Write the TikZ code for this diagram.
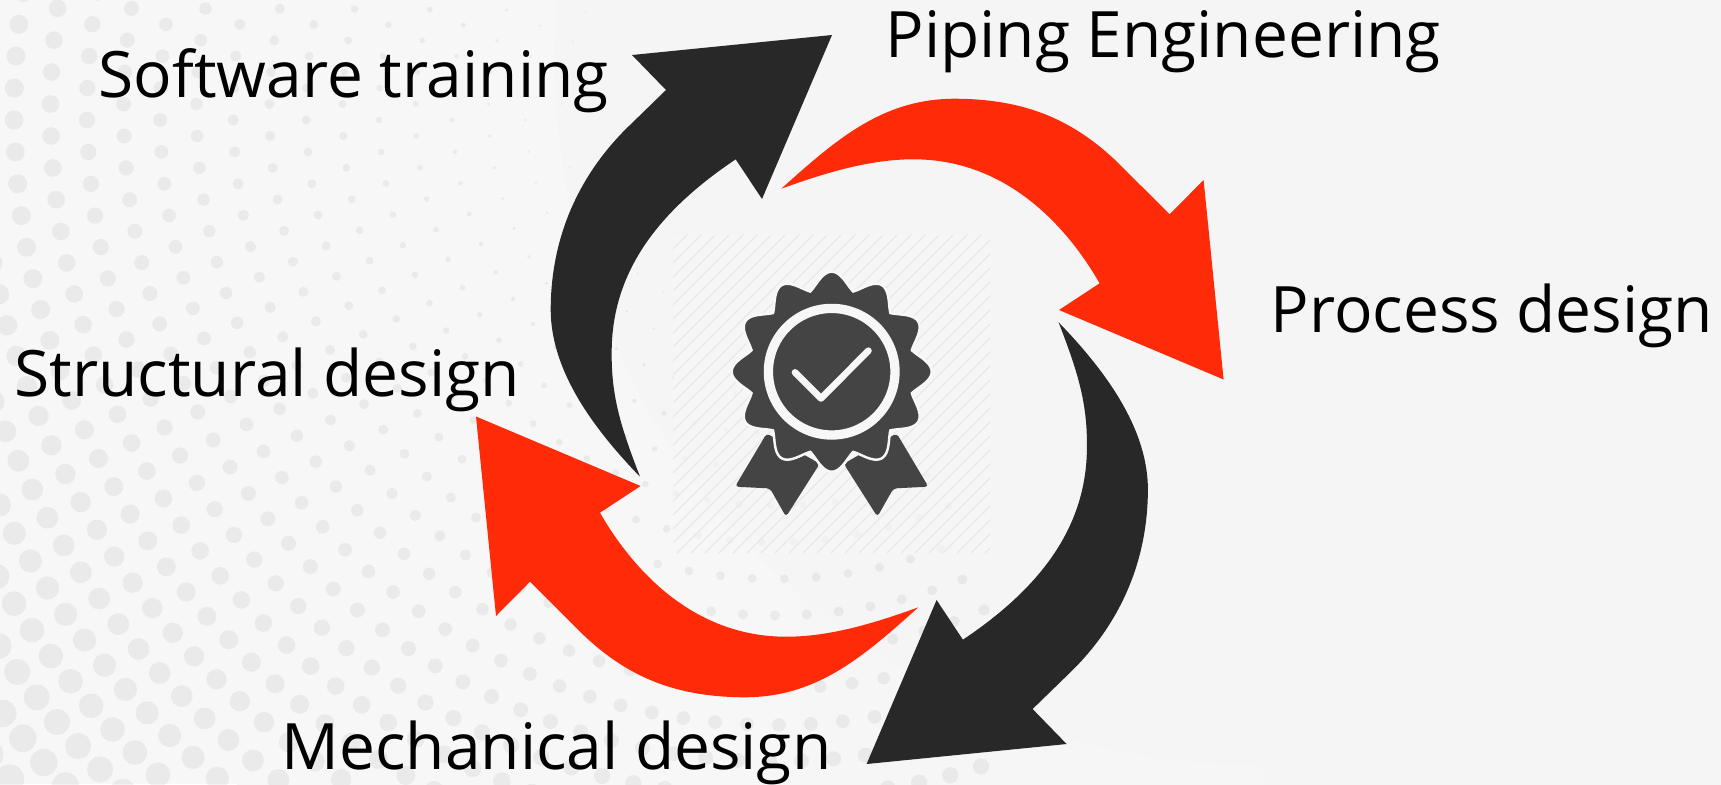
\documentclass[tikz,border=0pt]{standalone}
\usepackage{fontspec}
\setmainfont{Open Sans}
\usepackage{xcolor}
\usetikzlibrary{fadings}
\definecolor{paper}{HTML}{F7F7F7}
\definecolor{paperR}{HTML}{F5F5F5}
\definecolor{bandA}{HTML}{E2E2E2}
\definecolor{bandB}{HTML}{EBEBEB}
\definecolor{bandC}{HTML}{F0F0F0}
\definecolor{arrowred}{HTML}{FF2A08}
\definecolor{arrowblack}{HTML}{282828}
\definecolor{badge}{HTML}{444444}
\pgfdeclareradialshading{rimA}{\pgfpoint{0bp}{0bp}}{color(0bp)=(paper); color(44.5bp)=(paper); color(50bp)=(bandA)}
\pgfdeclareradialshading{rimB}{\pgfpoint{0bp}{0bp}}{color(0bp)=(paper); color(43bp)=(paper); color(50bp)=(bandB)}
\pgfdeclareradialshading{rimC}{\pgfpoint{0bp}{0bp}}{color(0bp)=(paperR); color(42bp)=(paperR); color(50bp)=(bandC)}
\tikzset{
  lab/.style={anchor=base west,inner sep=0pt,text=black,font=\fontsize{18.2}{22}\selectfont},
  hatchline/.style={draw=black!9,line width=0.35pt},
  redarrow/.pic={
    \fill[arrowred] (476,416.5)--(640.6,486)--(600,512.7)
      .. controls (630,565) and (690,637) .. (786.7,636.7)
      .. controls (830,636.7) and (875,623) .. (918.3,607.3)
      .. controls (860,660) and (815,697) .. (745,697.3)
      .. controls (680,697) and (630,680) .. (581.7,633.3)
      --(530,581.7)--(496,616)--cycle;
  },
  blackarrow/.pic={
    \fill[arrowblack] (832,35)--(632,55)--(666,90)--(630,125)
      .. controls (583,170) and (550.7,232) .. (550.7,310)
      .. controls (551,365) and (585,420) .. (640,476.7)
      .. controls (620,425) and (611,395) .. (611.7,350)
      .. controls (612.5,270) and (660,210) .. (735.7,159.3)
      --(762,199)--cycle;
  }
}

\begin{document}
\begin{tikzpicture}[x=0.01cm,y=-0.01cm]
  \useasboundingbox (0,0) rectangle (1721,784);
  \begin{scope}
    \clip (0,0) rectangle (1721,784);
    \fill[paper] (0,0) rectangle (1721,784);
    \shade[shading=rimA] (1220,-184) circle[radius=1380];
    \shade[shading=rimB] (799,128) circle[radius=578];
    \shade[shading=rimC] (1260,60) circle[radius=705];
    \fill[paperR,path fading=west] (800,-5) rectangle (1725,790);
    \foreach \n in {-9,...,18} {
      \pgfmathsetmacro\ringR{761-36.5*\n}
      \pgfmathsetmacro\dotR{9.5*pow((\ringR-100)/660,1.3)}
      \foreach \j in {-40,...,40} {
        \pgfmathsetmacro\arcS{(10+32*\j+16*mod(abs(\n),2))/\ringR}
        \pgfmathsetmacro\dotX{775-\ringR*cos(deg(\arcS))}
        \pgfmathsetmacro\dotY{110+\ringR*sin(deg(\arcS))}
        \pgfmathparse{(abs(\arcS)<2 && \dotX>-12 && \dotX<1100 && \dotY>-12 && \dotY<796) ? 1 : 0}
        \ifnum\pgfmathresult=1
          \fill[black,fill opacity=0.05] (\dotX,\dotY) circle[radius=\dotR];
        \fi
      }
    }
  \end{scope}
  \begin{scope}
    \clip (673,235) rectangle (990,553);
    \fill[paper,fill opacity=0.6] (673,235) rectangle (990,553);
    \foreach \d in {355,369,...,990}
      \draw[hatchline] (\d,553)--++(318,-318);
  \end{scope}
  \pic {redarrow};
  \pic[rotate around={180:(849.8,398)}] {redarrow};
  \pic {blackarrow};
  \pic[rotate around={180:(849.3,399.5)}] {blackarrow};
  \begin{scope}[shift={(831.7,371.7)}]
    \foreach \s in {1,-1}
      \fill[badge,rounded corners=1pt,xscale=\s] (-65,61.7)--(-96.7,115)--(-61.7,116.7)--(-45.7,145)--(-12,92)--cycle;
    \filldraw[fill=badge,draw=paper,line width=0.7pt] plot[domain=0:360,samples=361] (\x:{91.5+8.5*(0.5*cos(12*\x)+1.5*(asin(abs(cos(6*\x)))/90-pow(asin(abs(cos(6*\x)))/90,3)/3)-0.5)}) --cycle;
    \draw[paper,line width=2.65pt] (0,0) circle[radius=63.3];
    \draw[paper,line width=1.9pt,line cap=round,line join=round] (-36.7,0.7)--(-10.7,26.7)--(36.7,-21);
  \end{scope}
  \node[lab] (software) at (98,97.5) {Software training};
  \node[lab] (piping) at (885,57.5) {Piping Engineering};
  \node[lab] (process) at (1270,332.5) {Process design};
  \node[lab] (structural) at (14,396.5) {Structural design};
  \node[lab] (mechanical) at (281,769) {Mechanical design};
\end{tikzpicture}
\end{document}
